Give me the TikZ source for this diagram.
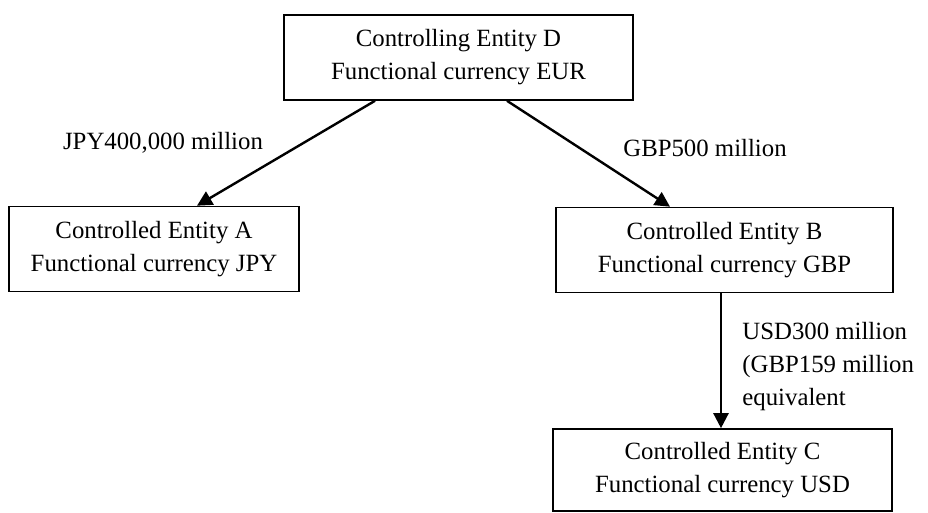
\documentclass[tikz,border=0pt]{standalone}
\usepackage{fontspec}
\setmainfont{Liberation Serif}
\usetikzlibrary{arrows.meta}

\begin{document}
\begin{tikzpicture}[x=0.5pt,y=-0.5pt,
      every node/.style={font=\fontsize{12.4}{16.5}\selectfont},
      entity/.style={draw,line width=0.8pt,align=center,minimum height=42.5pt,inner sep=0pt},
      amount/.style={inner sep=0pt}]
    \useasboundingbox (0,0) rectangle (928,513);
    \node (d) [entity,minimum width=174.5pt] at (458.5,57.5) {Controlling Entity D\\Functional currency EUR};
    \node (a) [entity,minimum width=145pt] at (154,249) {Controlled Entity A\\Functional currency JPY};
    \node (b) [entity,minimum width=168.5pt] at (724.5,250) {Controlled Entity B\\Functional currency GBP};
    \node (c) [entity,minimum width=169.5pt,minimum height=41pt] at (722.5,470) {Controlled Entity C\\Functional currency USD};
    \node (jpy) [amount] at (163,143) {JPY400,000 million};
    \node (gbp) [amount] at (705,148) {GBP500 million};
    \node (usd) [amount,align=left,anchor=north west] at (742,322) {USD300 million\\(GBP159 million\\equivalent};
    \path[-{Triangle[length=7.5pt,width=7.5pt]},line width=1.2pt]
          ([xshift=-41.75pt]d.south) edge ([xshift=21.5pt]a.north)
          ([xshift=24.25pt]d.south) edge ([xshift=-27.25pt]b.north)
          ([xshift=-1.75pt]b.south) edge ([xshift=-1.75pt]b.south |- c.north);
  \end{tikzpicture}
\end{document}
